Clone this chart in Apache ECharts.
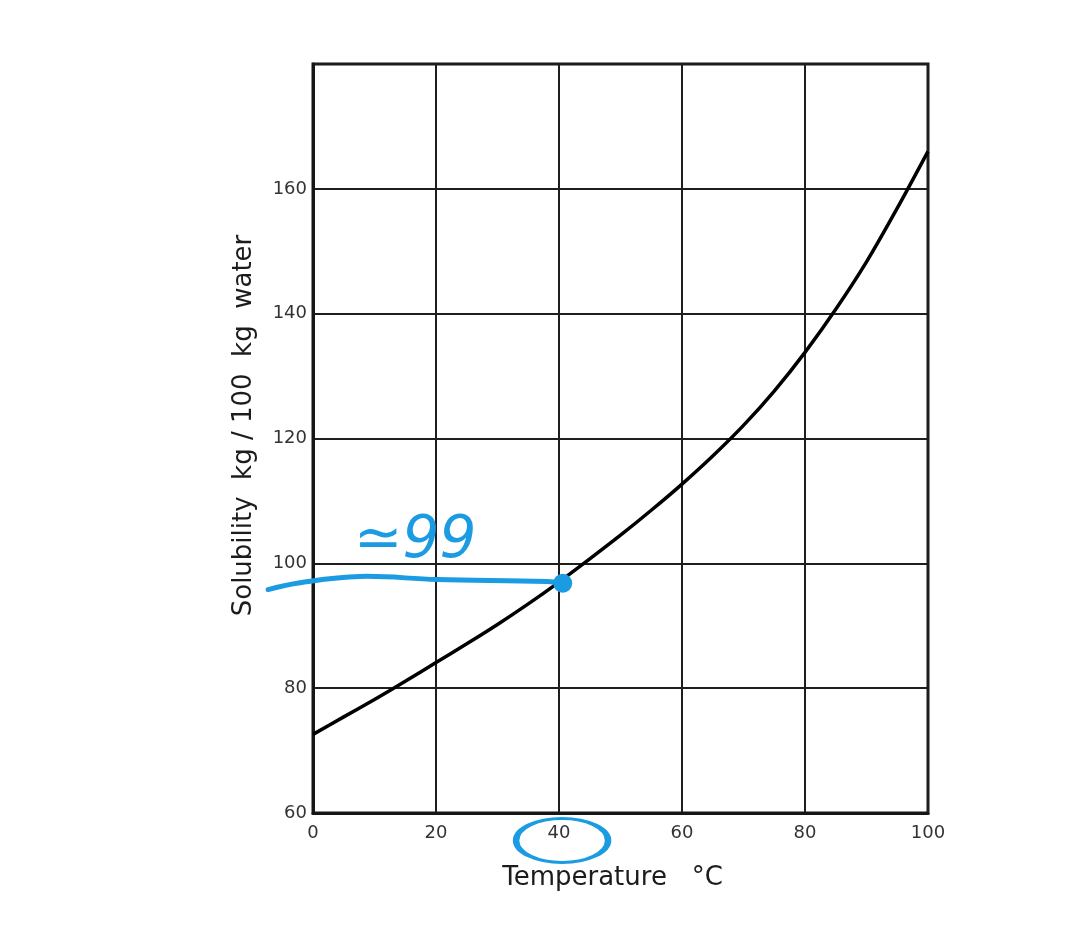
<!DOCTYPE html>
<html>
<head>
<meta charset="utf-8">
<title>Solubility curve</title>
<script src="https://cdn.jsdelivr.net/npm/echarts@6/dist/echarts.min.js"></script>
<style>
  html, body { margin: 0; padding: 0; background: #fff; }
  #chart { width: 1080px; height: 948px; }
</style>
</head>
<body>
<div id="chart"></div>
<script>
// 溶解度曲线
var temperature = [0, 5, 10, 15, 20, 25, 30, 35, 40, 45, 50, 55, 60, 65, 70, 75, 80, 85, 90, 95, 100]
var solubility = [72.6, 75.4, 78.2, 81.1, 84.1, 87.1, 90.2, 93.5, 97.0, 100.7, 104.5, 108.5, 112.7, 117.2, 122.1, 127.6, 133.8, 140.7, 148.3, 156.9, 166.0]

// hand drawn annotation (blue)
var readPoint = [40.6, 96.8]
var readLineX = [-7.3, -2.1, 7.6, 20.2, 38.0, 40.6]
var readLineY = [95.8, 96.9, 97.9, 97.4, 97.1, 96.8]
var readText = '≃99'
var readTextAt = [16.6, 103.4]
var ringAt = [40.5, 55.6]

var xTicks = [0, 20, 40, 60, 80, 100]
var yTicks = [60, 80, 100, 120, 140, 160]

var blue = '#1b9be2'
var ink = '#161616'
var font = 'DejaVu Sans'

var curve = temperature.map(function (t, i) { return [t, solubility[i]] })
var readLine = readLineX.map(function (t, i) { return [t, readLineY[i]] })

var chart = echarts.init(document.getElementById('chart'))
chart.setOption({
  animation: false,
  backgroundColor: '#fff',
  grid: {
    left: 313,
    right: 152,
    top: 64,
    bottom: 135,
    show: true,
    borderColor: ink,
    borderWidth: 3
  },
  xAxis: {
    type: 'value',
    min: 0,
    max: 100,
    interval: 20,
    name: 'Temperature   °C',
    nameLocation: 'middle',
    nameGap: 52,
    nameTextStyle: {
      fontFamily: font,
      fontSize: 26,
      color: '#1c1c1c',
      padding: [0, 16, 0, 0]
    },
    axisLine: { show: true, lineStyle: { color: ink, width: 3 } },
    axisTick: { show: false },
    axisLabel: {
      margin: 11,
      fontFamily: font,
      fontSize: 18,
      color: '#333',
      formatter: function (v) { return xTicks.indexOf(v) > -1 ? String(v) : '' }
    },
    splitLine: { show: true, lineStyle: { color: '#1e1e1e', width: 2 } }
  },
  yAxis: {
    type: 'value',
    min: 60,
    max: 180,
    interval: 20,
    name: 'Solubility  kg / 100  kg  water',
    nameLocation: 'middle',
    nameGap: 56,
    nameTextStyle: {
      fontFamily: font,
      fontSize: 26,
      color: '#1c1c1c',
      padding: [0, 0, 0, 26]
    },
    axisLine: { show: true, lineStyle: { color: ink, width: 3 } },
    axisTick: { show: false },
    axisLabel: {
      margin: 6,
      fontFamily: font,
      fontSize: 18,
      color: '#333',
      formatter: function (v) { return yTicks.indexOf(v) > -1 ? String(v) : '' }
    },
    splitLine: { show: true, lineStyle: { color: '#1e1e1e', width: 2 } }
  },
  series: [
    {
      name: 'solubility',
      type: 'line',
      data: curve,
      smooth: 0.3,
      symbol: 'none',
      lineStyle: { color: '#000', width: 3.5 },
      z: 3
    },
    {
      name: 'read point',
      type: 'scatter',
      data: [readPoint],
      symbolSize: 19,
      itemStyle: { color: blue, opacity: 1 },
      z: 6
    },
    {
      name: 'read text',
      type: 'scatter',
      data: [readTextAt],
      symbolSize: 0,
      clip: false,
      itemStyle: { opacity: 1 },
      label: {
        show: true,
        position: 'inside',
        formatter: readText,
        fontFamily: font,
        fontStyle: 'italic',
        fontSize: 58,
        color: blue
      },
      z: 5
    },
    {
      name: 'ring',
      type: 'scatter',
      data: [ringAt],
      symbol: 'circle',
      symbolSize: [92, 44],
      clip: false,
      itemStyle: { color: 'rgba(0,0,0,0)', borderColor: blue, borderWidth: 4.5, opacity: 1 },
      z: 5
    }
  ]
})

// 蓝色引线：用坐标系换算成像素，可以画到 y 轴外面
var readLinePx = readLine.map(function (p) {
  return chart.convertToPixel({ gridIndex: 0 }, p)
})
chart.setOption({
  graphic: [{
    type: 'polyline',
    z: 100,
    shape: { points: readLinePx, smooth: 0.4 },
    style: { stroke: blue, lineWidth: 5, fill: null, lineCap: 'round' }
  }]
})
</script>
</body>
</html>
